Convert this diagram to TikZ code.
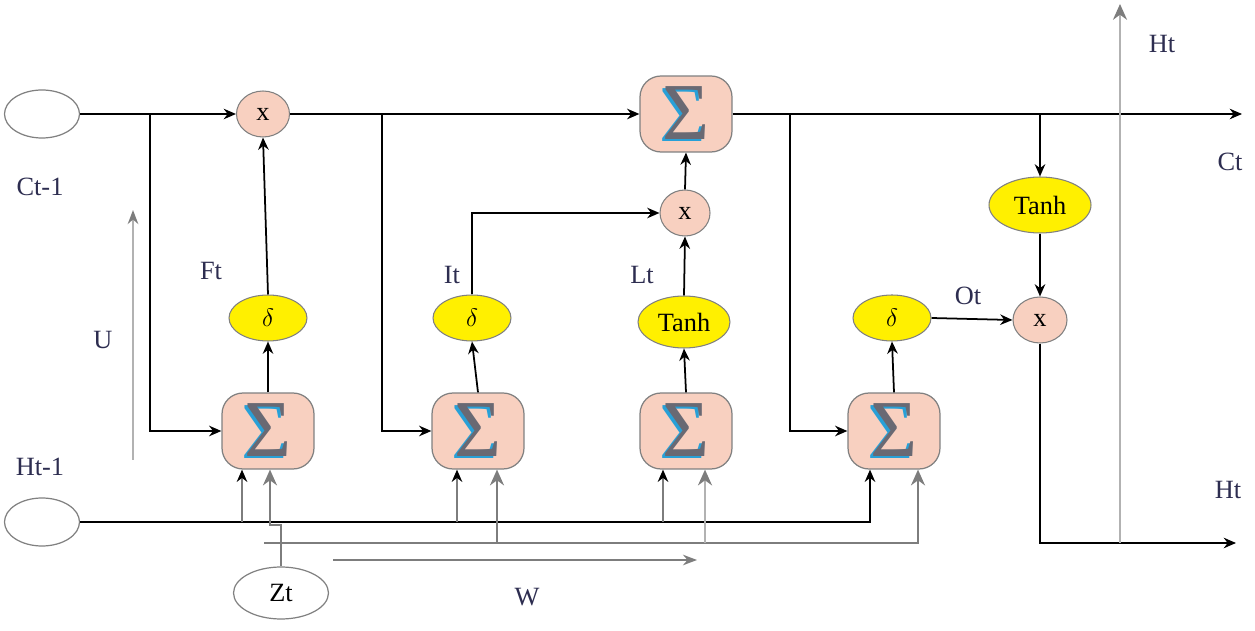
\documentclass[tikz,border=0pt]{standalone}
\usepackage{fontspec}
\setmainfont{Liberation Serif}
\usetikzlibrary{arrows.meta}
\usetikzlibrary{shapes.geometric}
\usetikzlibrary{calc,positioning}

\definecolor{nodepink}{RGB}{248,208,192}
\definecolor{gateyellow}{RGB}{255,240,0}
\definecolor{sumgray}{RGB}{105,105,115}
\definecolor{sumblue}{RGB}{40,160,215}
\definecolor{labelcol}{RGB}{45,45,80}
\definecolor{wiregray}{RGB}{125,125,125}
\definecolor{palegray}{RGB}{178,178,178}

\newcommand{\sumsign}{{\fontsize{46}{46}\selectfont\makebox[0pt][l]{\hspace{-1.8pt}\raisebox{-1.1pt}{\color{sumblue}Σ}}\textcolor{sumgray}{Σ}}}

\begin{document}
\begin{tikzpicture}[>={Stealth[length=7pt,width=6pt]}, x=0.02cm, y=-0.02cm,
    font=\fontsize{15}{18}\selectfont,
    io/.style={ellipse, draw=gray, line width=0.7pt, minimum width=1.5cm, minimum height=0.96cm, inner sep=0pt},
    mult/.style={ellipse, draw=gray, line width=0.6pt, fill=nodepink, minimum width=1.06cm, minimum height=0.92cm, inner sep=0pt},
    sumbox/.style={rectangle, rounded corners=0.42cm, draw=gray, line width=0.7pt, fill=nodepink, minimum width=1.84cm, minimum height=1.52cm, inner sep=0pt},
    gate/.style={ellipse, draw=gray, line width=0.6pt, fill=gateyellow, minimum width=1.56cm, minimum height=0.92cm, inner sep=0pt},
    lbl/.style={text=labelcol},
    wire/.style={line width=1pt},
    gwire/.style={line width=1pt, draw=wiregray},
    pwire/.style={line width=1.2pt, draw=palegray},
    bigtip/.style={-{Stealth[length=9pt,width=8pt,color=wiregray]}},
    blacktip/.style={-{Stealth[length=7pt,width=6pt,color=black]}}]

    \useasboundingbox (0,0) rectangle (1255,631);

    \node[io] (cprev) at (42,114) {};
    \node[io] (hprev) at (42,522) {};
    \node[io, minimum width=1.9cm, minimum height=1.04cm] (zt) at (281,593) {Zt};

    \node[mult] (m1) at (263,114) {x};
    \node[sumbox] (stop) at (686,114) {\sumsign};
    \node[mult, minimum width=1.0cm] (m2) at (685,213) {x};
    \node[mult, minimum width=1.08cm] (m3) at (1040,320) {x};

    \node[gate] (d1) at (268,318) {$\delta$};
    \node[gate] (d2) at (472,318) {$\delta$};
    \node[gate, minimum width=1.84cm, minimum height=1.04cm] (t1) at (684,322) {Tanh};
    \node[gate] (d4) at (892,318) {$\delta$};
    \node[gate, minimum width=2.04cm, minimum height=1.12cm] (t2) at (1040,205) {Tanh};

    \node[sumbox] (s1) at (268,431) {\sumsign};
    \node[sumbox] (s2) at (478,431) {\sumsign};
    \node[sumbox] (s3) at (686,431) {\sumsign};
    \node[sumbox] (s4) at (894,431) {\sumsign};

    \node[lbl] (lcprev) at (40,187) {Ct-1};
    \node[lbl] (lhprev) at (40,467) {Ht-1};
    \node[lbl] (lu) at (103,340) {U};
    \node[lbl] (lw) at (527,597) {W};
    \node[lbl] (lf) at (211,271) {Ft};
    \node[lbl] (li) at (452,275) {It};
    \node[lbl] (ll) at (642,275) {Lt};
    \node[lbl] (lo) at (968,296) {Ot};
    \node[lbl] (lct) at (1230,162) {Ct};
    \node[lbl] (lhtup) at (1162,44) {Ht};
    \node[lbl] (lht) at (1228,490) {Ht};

    \coordinate (b1) at (150,114);
    \coordinate (b2) at (382,114);
    \coordinate (b3) at (790,114);
    \coordinate (b4) at (1040,114);
    \coordinate (ctend) at (1242,114);
    \coordinate (htend) at (1236,543);
    \coordinate (hup0) at (1120,543);
    \coordinate (hup1) at (1120,4);

    \draw[wire,->] (cprev.east) -- (m1.west);
    \draw[wire,->] (m1.east) -- (stop.west);
    \draw[wire,->] (stop.east) -- (ctend);
    \draw[wire,->] (b1) |- (s1.west);
    \draw[wire,->] (b2) |- (s2.west);
    \draw[wire,->] (b3) |- (s4.west);
    \draw[wire,->] (b4) -- (t2.north);

    \draw[wire,->] (s1.north) -- (d1.south);
    \draw[wire,->] (d1.north) -- (m1.south);
    \draw[wire,->] (s2.north) -- (d2.south);
    \draw[wire,->] (d2.north) |- (m2.west);
    \draw[wire,->] (s3.north) -- (t1.south);
    \draw[wire,->] (t1.north) -- (m2.south);
    \draw[wire,->] (m2.north) -- (stop.south);
    \draw[wire,->] (s4.north) -- (d4.south);
    \draw[wire,->] (d4.east) -- (m3.west);
    \draw[wire,->] (t2.south) -- (m3.north);
    \draw[wire,->] (m3.south) |- (htend);

    \coordinate (h4) at (870,522);
    \draw[wire,->] (hprev.east) -- (h4) -- (h4 |- s4.south);
    \foreach \x/\s [count=\i] in {242/s1,457/s2,663/s3} {
        \coordinate (hb\i) at (\x,522);
        \draw[gwire,blacktip] (hb\i) -- (hb\i |- \s.south);
    }

    \coordinate (z0) at (264,543);
    \coordinate (z4) at (918,543);
    \coordinate (zb2) at (497,543);
    \coordinate (zb3) at (705,543);
    \draw[gwire,bigtip] (z0) -- (z4) -- (z4 |- s4.south);
    \draw[gwire,bigtip] (zb2) -- (zb2 |- s2.south);
    \draw[pwire,bigtip] (zb3) -- (zb3 |- s3.south);
    \coordinate (zj) at (281,525);
    \coordinate (zk) at (270,525);
    \draw[gwire,bigtip] (zt.north) -- (zj) -- (zk) -- (zk |- s1.south);

    \coordinate (wl) at (333,560);
    \coordinate (wr) at (697,560);
    \draw[gwire,-{Stealth[length=8pt,width=6pt,color=wiregray]}] (wl) -- (wr);
    \coordinate (ul) at (133,460);
    \coordinate (ut) at (133,210);
    \draw[pwire,-{Stealth[length=8pt,width=6pt,color=wiregray]}] (ul) -- (ut);
    \draw[pwire,bigtip] (hup0) -- (hup1);

\end{tikzpicture}
\end{document}
